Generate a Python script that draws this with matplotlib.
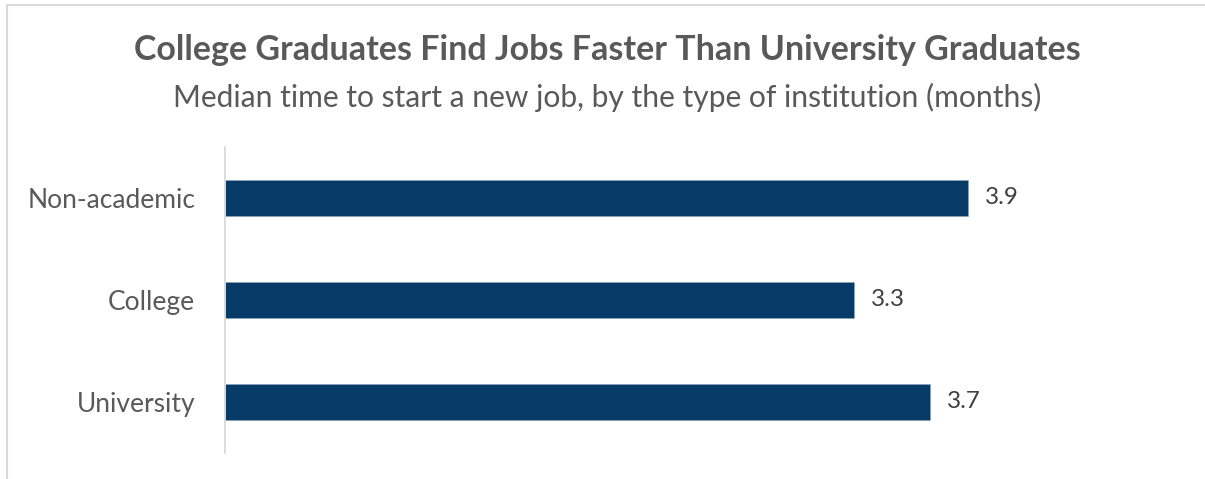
import matplotlib.pyplot as plt
from matplotlib.patches import Rectangle

# data
categories = ["University", "College", "Non-academic"]
values = [3.7, 3.3, 3.9]
value_labels = ["3.7", "3.3", "3.9"]

TITLE = "College Graduates Find Jobs Faster Than University Graduates"
SUBTITLE = "Median time to start a new job, by the type of institution (months)"

BAR_COLOR = "#063a67"
TEXT_GRAY = "#595959"
LABEL_DARK = "#404040"
LINE_GRAY = "#d9d9d9"

W, H = 1205, 479
plt.rcParams['font.family'] = ['Lato', 'DejaVu Sans']

fig = plt.figure(figsize=(W / 100, H / 100), dpi=100)

# axes placed in pixel terms: left 225, right 1130, top 147, bottom 453
ax_l, ax_r, ax_t, ax_b = 225, 1130, 147, 453
ax = fig.add_axes([ax_l / W, 1 - ax_b / H, (ax_r - ax_l) / W, (ax_b - ax_t) / H])

px_per_unit = 190.5
ax.set_xlim(0, (ax_r - ax_l) / px_per_unit)
ax.set_ylim(-0.5, 2.5)

y = list(range(len(categories)))
ax.barh(y, values, height=0.345, color=BAR_COLOR, edgecolor="#8fa6bd", linewidth=0.4)

for yi, v, lab in zip(y, values, value_labels):
    ax.annotate(lab, xy=(v, yi), xytext=(17, 0), textcoords="offset pixels",
                va="center", ha="left", fontsize=17.5, color=LABEL_DARK)

ax.set_yticks(y)
ax.set_yticklabels(categories, fontsize=19, color=TEXT_GRAY)
ax.tick_params(axis="y", length=0, pad=21.5)
ax.set_xticks([])

for side in ["top", "right", "bottom"]:
    ax.spines[side].set_visible(False)
ax.spines["left"].set_color(LINE_GRAY)
ax.spines["left"].set_linewidth(1.3)

# title and subtitle
fig.text(607 / W, 1 - 50 / H, TITLE, ha="center", va="center",
         fontsize=24.5, fontweight="bold", color=TEXT_GRAY)
fig.text(607 / W, 1 - 97 / H, SUBTITLE, ha="center", va="center",
         fontsize=21.6, color=TEXT_GRAY)

# light outer frame (clipped on right and bottom)
fig.patches.append(Rectangle((6.5 / W, -0.1), 1.2, 1.1 - 5.5 / H,
                             transform=fig.transFigure, fill=False,
                             edgecolor=LINE_GRAY, linewidth=1.5))

fig.savefig("out.png", dpi=100)
